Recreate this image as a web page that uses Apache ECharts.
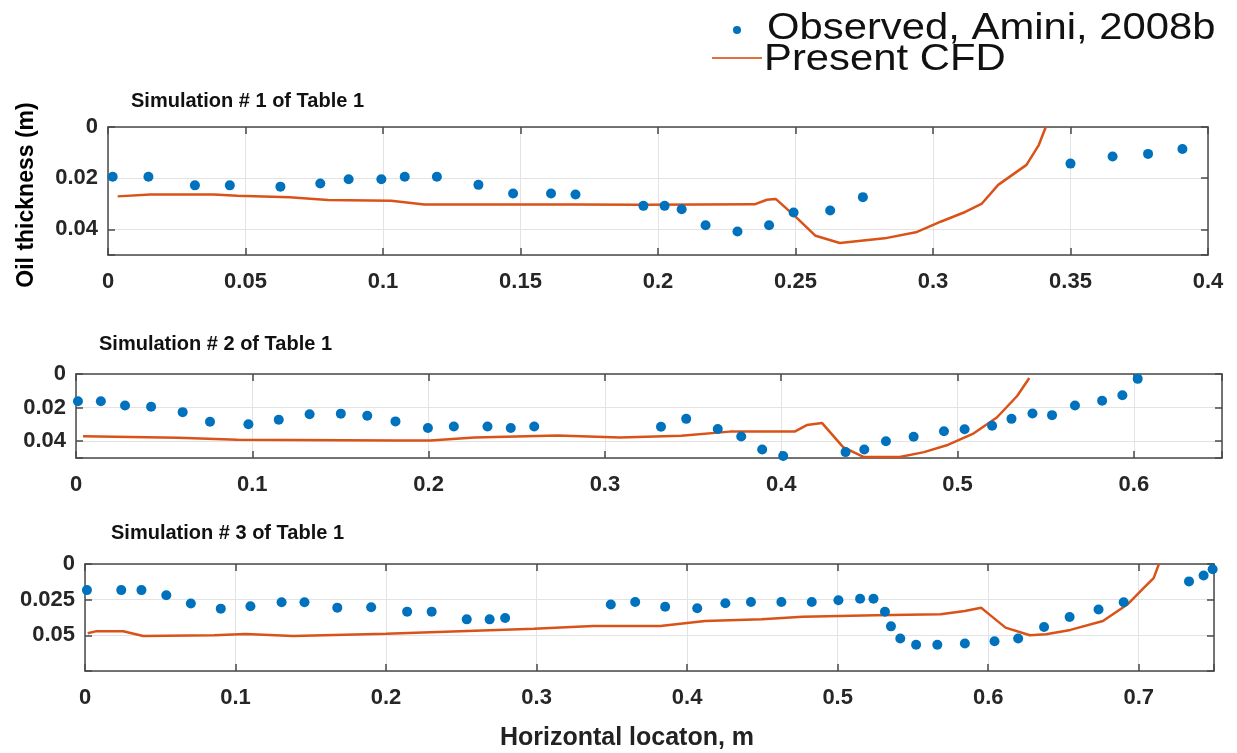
<!DOCTYPE html>
<html>
<head>
<meta charset="utf-8">
<script src="https://cdn.jsdelivr.net/npm/echarts@6/dist/echarts.min.js"></script>
<style>
  html, body { margin:0; padding:0; background:#fff; }
  #chart { width:1237px; height:753px; }
</style>
</head>
<body>
<div id="chart"></div>
<script>
// observed points [x (m), oil thickness (m)]
const obs1 = [[0.0017,0.0194],[0.0147,0.0194],[0.0316,0.0228],[0.0443,0.0228],[0.0627,0.0233],[0.0772,0.0221],[0.0875,0.0204],[0.0994,0.0204],[0.1079,0.0194],[0.1196,0.0194],[0.1347,0.0226],[0.1473,0.026],[0.1611,0.026],[0.17,0.0264],[0.1947,0.0308],[0.2024,0.0308],[0.2086,0.0321],[0.2173,0.0384],[0.2289,0.0408],[0.2404,0.0384],[0.2493,0.0334],[0.2626,0.0326],[0.2745,0.0274],[0.35,0.0143],[0.3653,0.0115],[0.3782,0.0105],[0.3907,0.0086]];
const cfd1 = [[0.0035,0.0271],[0.0154,0.0264],[0.0385,0.0264],[0.047,0.0269],[0.066,0.0274],[0.08,0.0285],[0.103,0.0288],[0.115,0.0303],[0.17,0.0303],[0.1938,0.0304],[0.2351,0.0302],[0.2396,0.0284],[0.2428,0.0281],[0.25,0.035],[0.2573,0.0425],[0.2661,0.0453],[0.2824,0.0435],[0.2942,0.041],[0.303,0.0369],[0.3119,0.0331],[0.3178,0.0299],[0.3237,0.0226],[0.334,0.0148],[0.3384,0.0072],[0.341,0]];

const obs2 = [[0.0011,0.0162],[0.0141,0.0162],[0.0278,0.0187],[0.0426,0.0195],[0.0605,0.0227],[0.076,0.0284],[0.0978,0.0299],[0.115,0.0272],[0.1325,0.024],[0.1502,0.0236],[0.1652,0.0248],[0.1812,0.0282],[0.1996,0.0321],[0.2143,0.0313],[0.2334,0.0313],[0.2466,0.0321],[0.2599,0.0313],[0.3318,0.0314],[0.3461,0.0267],[0.364,0.0327],[0.3773,0.0372],[0.3892,0.0449],[0.4011,0.0488],[0.4365,0.0465],[0.4471,0.0449],[0.4594,0.04],[0.4751,0.0374],[0.4923,0.0341],[0.504,0.0329],[0.5196,0.0308],[0.5306,0.0267],[0.5425,0.0235],[0.5536,0.0245],[0.5666,0.0188],[0.582,0.0159],[0.5935,0.0127],[0.6022,0.0029]];
const cfd2 = [[0.004,0.037],[0.058,0.038],[0.0915,0.0392],[0.181,0.0396],[0.201,0.0396],[0.226,0.0378],[0.273,0.0366],[0.3085,0.0378],[0.3433,0.0367],[0.3708,0.0343],[0.4076,0.0343],[0.4145,0.0304],[0.4232,0.0292],[0.4351,0.0435],[0.4466,0.0494],[0.4672,0.0494],[0.481,0.0465],[0.4948,0.0421],[0.5086,0.0357],[0.5223,0.0259],[0.5338,0.0131],[0.5407,0.0024]];

const obs3 = [[0.0013,0.0183],[0.0241,0.0183],[0.0375,0.0183],[0.054,0.0219],[0.0703,0.0277],[0.0902,0.0313],[0.1099,0.0296],[0.1306,0.0268],[0.1458,0.0268],[0.1676,0.0306],[0.1901,0.0303],[0.214,0.0334],[0.2303,0.0334],[0.2536,0.0388],[0.2688,0.0388],[0.2791,0.0378],[0.3493,0.0284],[0.3655,0.0266],[0.3854,0.03],[0.4067,0.031],[0.4254,0.0275],[0.4424,0.0266],[0.4626,0.0266],[0.4828,0.0266],[0.5005,0.0254],[0.5149,0.0243],[0.5238,0.0243],[0.5314,0.0335],[0.5354,0.0437],[0.5416,0.0522],[0.5521,0.0566],[0.5662,0.0566],[0.5845,0.0557],[0.6042,0.0541],[0.6199,0.0522],[0.6371,0.0441],[0.6541,0.0372],[0.6733,0.0319],[0.69,0.0268],[0.7334,0.0122],[0.7431,0.0081],[0.7491,0.0037]];
const cfd3 = [[0.0018,0.0486],[0.0071,0.0472],[0.0254,0.0472],[0.0386,0.0505],[0.0858,0.05],[0.1067,0.0491],[0.1382,0.0505],[0.2,0.0489],[0.2588,0.0468],[0.2982,0.0454],[0.3375,0.0435],[0.3822,0.0434],[0.4119,0.04],[0.4496,0.0388],[0.4766,0.037],[0.5252,0.036],[0.5683,0.0353],[0.5845,0.033],[0.5953,0.0307],[0.6007,0.0353],[0.6115,0.0446],[0.6277,0.0499],[0.6385,0.0492],[0.6546,0.0462],[0.6762,0.04],[0.6924,0.0284],[0.7032,0.0169],[0.7099,0.0099],[0.7134,0]];

const panelTitles = ['Simulation # 1 of Table 1', 'Simulation # 2 of Table 1', 'Simulation # 3 of Table 1'];
const legendNames = ['Observed, Amini, 2008b', 'Present CFD'];

const FONT = "'Liberation Sans', Arial, sans-serif";
const BLUE = '#0072BD';
const ORANGE = '#D95319';
const INK = '#262626';

// axis ranges per panel
const panels = [
    { obs:obs1, cfd:cfd1, grid:{ left:108, top:127, width:1100, height:128 }, xMax:0.4, xInt:0.05, yMax:0.05, yInt:0.02, title:[131,101] },
    { obs:obs2, cfd:cfd2, grid:{ left:76, top:374, width:1146, height:84 }, xMax:0.65, xInt:0.1, yMax:0.05, yInt:0.02, title:[99,344] },
    { obs:obs3, cfd:cfd3, grid:{ left:85, top:564, width:1129, height:107 }, xMax:0.75, xInt:0.1, yMax:0.075, yInt:0.025, title:[111,533] }
];

function onStep(v, step){
    let r = v / step;
    return Math.abs(r - Math.round(r)) < 1e-6;
}
function fmt(v){
    return String(parseFloat(v.toFixed(4)));
}

let grids = [], xAxes = [], yAxes = [], series = [], graphics = [];

panels.forEach((p, i)=>{
    grids.push({ left:p.grid.left, top:p.grid.top, width:p.grid.width, height:p.grid.height, show:false, containLabel:false });
    let xBase = {
        gridIndex:i, type:'value', min:0, max:p.xMax, interval:p.xInt,
        axisLine:{ show:true, onZero:false, lineStyle:{ color:'#4a4a4a', width:1.5 } },
        axisTick:{ show:true, inside:true, length:7, lineStyle:{ color:'#4a4a4a', width:1.5 } }
    };
    xAxes.push(Object.assign({}, xBase, {
        position:'bottom',
        splitLine:{ show:true, lineStyle:{ color:'#e3e3e3', width:1 } },
        axisLabel:{
            show:true, margin:16, color:INK, fontFamily:FONT, fontWeight:'bold', fontSize:22,
            formatter:(v)=> (onStep(v, p.xInt) ? fmt(v) : '')
        }
    }));
    xAxes.push(Object.assign({}, xBase, {
        position:'top', splitLine:{ show:false }, axisLabel:{ show:false }
    }));
    let yBase = {
        gridIndex:i, type:'value', min:0, max:p.yMax, interval:p.yInt, inverse:true,
        axisLine:{ show:true, onZero:false, lineStyle:{ color:'#4a4a4a', width:1.5 } },
        axisTick:{ show:true, inside:true, length:7, lineStyle:{ color:'#4a4a4a', width:1.5 } }
    };
    yAxes.push(Object.assign({}, yBase, {
        position:'left',
        splitLine:{ show:true, lineStyle:{ color:'#e3e3e3', width:1 } },
        axisLabel:{
            show:true, margin:10, color:INK, fontFamily:FONT, fontWeight:'bold', fontSize:22,
            formatter:(v)=> (onStep(v, p.yInt) && v < p.yMax - 1e-9 ? fmt(v) : '')
        }
    }));
    yAxes.push(Object.assign({}, yBase, {
        position:'right', splitLine:{ show:false }, axisLabel:{ show:false }
    }));

    series.push({
        type:'line', name:legendNames[1], xAxisIndex:i*2, yAxisIndex:i*2,
        data:p.cfd, symbol:'none', smooth:false,
        lineStyle:{ color:ORANGE, width:2.5 }, z:2
    });
    series.push({
        type:'scatter', name:legendNames[0], xAxisIndex:i*2, yAxisIndex:i*2,
        data:p.obs, symbol:'circle', symbolSize:10,
        itemStyle:{ color:BLUE, opacity:1 }, z:3
    });

    graphics.push({
        type:'text', x:p.title[0], y:p.title[1],
        style:{ text:panelTitles[i], font:'bold 20px ' + FONT, fill:'#111', align:'left', verticalAlign:'middle' }
    });
});

// axis titles
graphics.push({
    type:'text', x:27, y:195, rotation:Math.PI/2,
    style:{ text:'Oil thickness (m)', font:'bold 23px ' + FONT, fill:'#000', align:'center', verticalAlign:'middle' }
});
graphics.push({
    type:'text', x:627, y:738,
    style:{ text:'Horizontal locaton, m', font:'bold 25px ' + FONT, fill:'#222', align:'center', verticalAlign:'middle' }
});

// legend (text is wide in the original, so stretch it a little)
graphics.push({ type:'circle', shape:{ cx:737, cy:30, r:4 }, style:{ fill:BLUE } });
graphics.push({
    type:'text', x:767, y:29, scaleX:1.13,
    style:{ text:legendNames[0], font:'37px ' + FONT, fill:'#111', align:'left', verticalAlign:'middle' }
});
graphics.push({ type:'line', shape:{ x1:712, y1:58, x2:762, y2:58 }, style:{ stroke:'#E07040', lineWidth:2 } });
graphics.push({
    type:'text', x:764, y:60, scaleX:1.13,
    style:{ text:legendNames[1], font:'37px ' + FONT, fill:'#111', align:'left', verticalAlign:'middle' }
});

let myChart = echarts.init(document.getElementById('chart'));
myChart.setOption({
    animation:false,
    backgroundColor:'#fff',
    grid:grids,
    xAxis:xAxes,
    yAxis:yAxes,
    series:series,
    graphic:graphics
});
</script>
</body>
</html>
